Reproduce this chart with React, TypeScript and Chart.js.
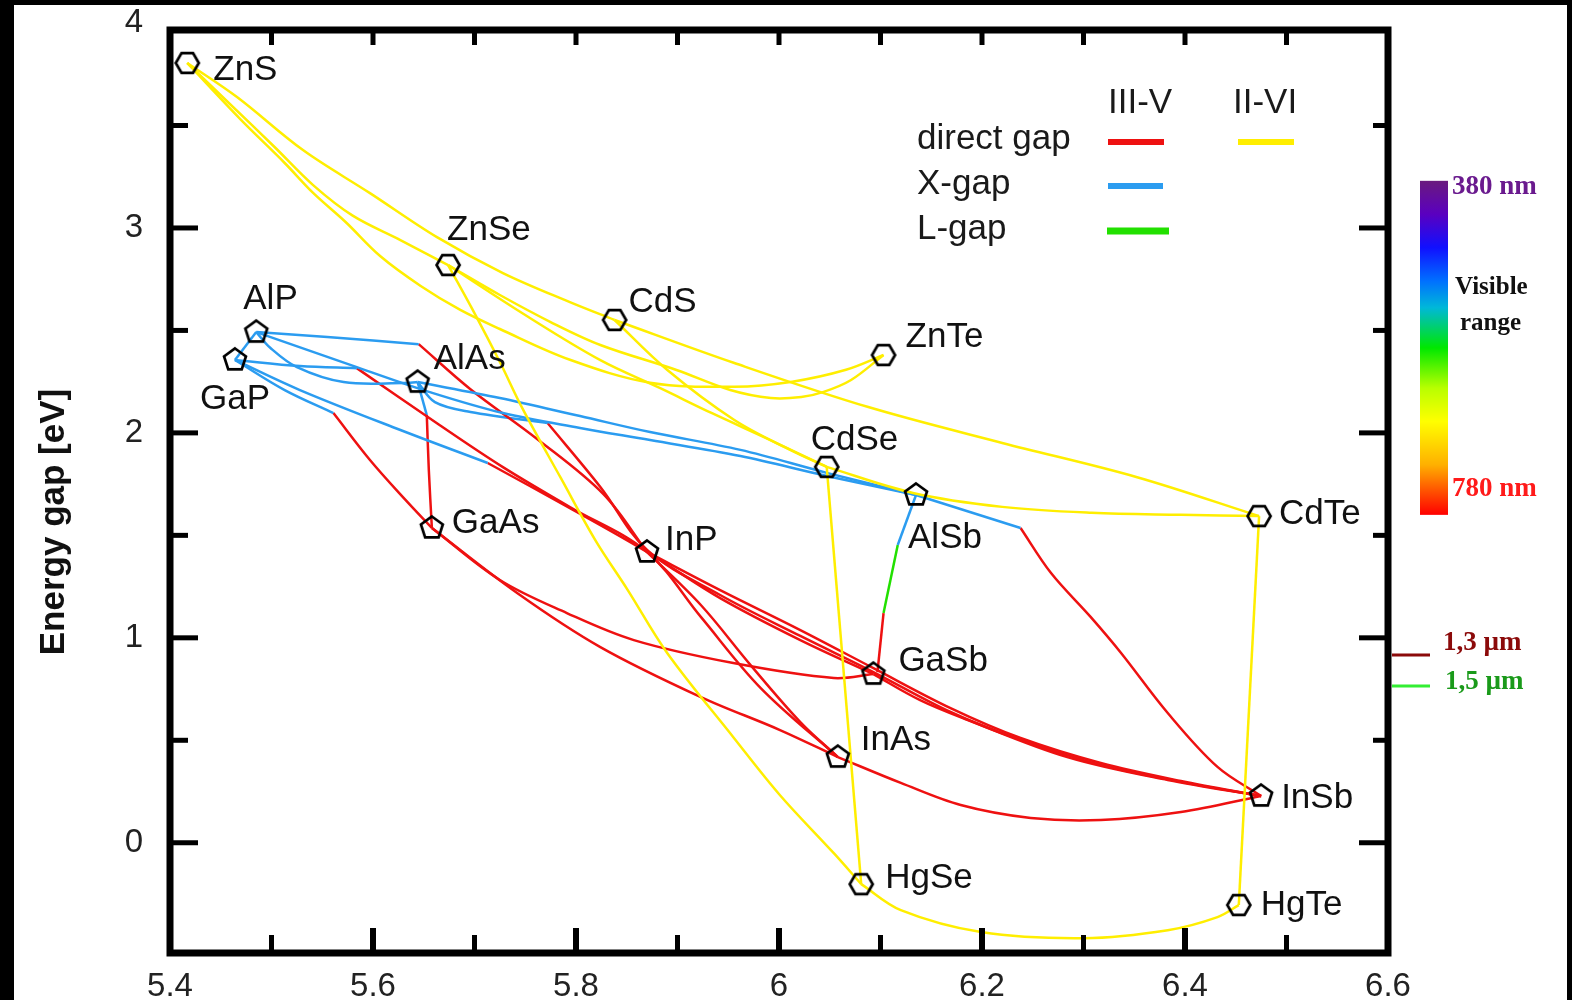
import React, { useEffect, useRef } from 'react';
import { Chart, registerables } from 'chart.js';

Chart.register(...registerables);

type Pt = [number, number];

// ---------- axes ----------
const xRange: Pt = [5.4, 6.6];
const yRange: Pt = [-0.538, 3.966];
const xTickValues = [5.4, 5.6, 5.8, 6.0, 6.2, 6.4, 6.6];
const xMinorTicks = [5.5, 5.7, 5.9, 6.1, 6.3, 6.5];
const yTickValues = [0, 1, 2, 3, 4];
const yMinorTicks = [0.5, 1.5, 2.5, 3.5];
const yTitle = 'Energy gap [eV]';

// ---------- compounds ----------
const iiviNames = ['ZnS', 'ZnSe', 'CdS', 'ZnTe', 'CdSe', 'CdTe', 'HgSe', 'HgTe'];
const iiviLattice = [5.417, 5.674, 5.838, 6.103, 6.047, 6.473, 6.081, 6.453];
const iiviGap = [3.805, 2.819, 2.551, 2.38, 1.834, 1.594, -0.202, -0.304];

const ivNames = ['AlP', 'GaP', 'AlAs', 'GaAs', 'InP', 'AlSb', 'GaSb', 'InAs', 'InSb'];
const ivLattice = [5.485, 5.464, 5.644, 5.658, 5.87, 6.135, 6.093, 6.058, 6.475];
const ivGap = [2.492, 2.356, 2.248, 1.536, 1.419, 1.697, 0.823, 0.418, 0.228];

// ---------- II-VI alloy curves ----------
const znsZnse: Pt[] = [[5.417, 3.805], [5.459, 3.605], [5.503, 3.395], [5.541, 3.209], [5.58, 3.06], [5.627, 2.941], [5.674, 2.819]];
const znsCds: Pt[] = [[5.417, 3.805], [5.466, 3.639], [5.531, 3.38], [5.597, 3.17], [5.663, 2.955], [5.728, 2.78], [5.794, 2.638], [5.838, 2.551]];
const znsZnte: Pt[] = [[5.417, 3.805], [5.469, 3.532], [5.513, 3.317], [5.541, 3.171], [5.573, 3.029], [5.607, 2.863], [5.647, 2.717], [5.686, 2.6], [5.725, 2.507], [5.794, 2.357], [5.873, 2.245], [5.956, 2.225], [6.013, 2.25], [6.066, 2.308], [6.103, 2.38]];
const znseZnte: Pt[] = [[5.674, 2.819], [5.725, 2.673], [5.775, 2.541], [5.824, 2.429], [5.899, 2.307], [5.952, 2.209], [5.992, 2.17], [6.022, 2.175], [6.044, 2.2], [6.071, 2.258], [6.103, 2.38]];
const znseCdse: Pt[] = [[5.674, 2.819], [5.75, 2.575], [5.824, 2.355], [5.883, 2.218], [5.934, 2.096], [5.992, 1.964], [6.047, 1.834]];
const cdsCdse: Pt[] = [[5.838, 2.551], [5.89, 2.307], [5.956, 2.063], [6.011, 1.917], [6.047, 1.834]];
const cdsCdte: Pt[] = [[5.838, 2.551], [5.956, 2.341], [6.088, 2.126], [6.22, 1.951], [6.352, 1.785], [6.473, 1.594]];
const cdseCdte: Pt[] = [[6.047, 1.834], [6.132, 1.707], [6.22, 1.639], [6.308, 1.61], [6.396, 1.6], [6.473, 1.594]];
const cdseHgse: Pt[] = [[6.047, 1.834], [6.081, -0.202]];
const znseHgse: Pt[] = [[5.674, 2.819], [5.701, 2.575], [5.725, 2.346], [5.748, 2.112], [5.785, 1.78], [5.819, 1.477], [5.851, 1.233], [5.89, 0.925], [5.955, 0.515], [6.001, 0.232], [6.054, -0.051], [6.081, -0.202]];
const cdteHgte: Pt[] = [[6.473, 1.594], [6.453, -0.304]];
const hgseHgte: Pt[] = [[6.081, -0.202], [6.12, -0.329], [6.199, -0.436], [6.3, -0.466], [6.383, -0.427], [6.432, -0.363], [6.453, -0.304]];

// ---------- III-V alloy curves (X-gap part / L-gap part / direct part) ----------
const alpGap: Pt[] = [[5.485, 2.492], [5.464, 2.356]];
const alpAlas: Pt[] = [[5.485, 2.492], [5.499, 2.414], [5.525, 2.321], [5.571, 2.248], [5.63, 2.243], [5.644, 2.248]];
const alpAlsb: Pt[] = [[5.485, 2.492], [5.584, 2.321], [5.656, 2.199], [5.728, 2.097], [5.804, 2.024], [5.873, 1.965], [5.962, 1.887], [6.047, 1.79], [6.135, 1.697]];
const alasAlsb: Pt[] = [[5.644, 2.248], [5.725, 2.17], [5.804, 2.082], [5.873, 2.004], [5.962, 1.917], [6.047, 1.805], [6.135, 1.697]];
const alpInpX: Pt[] = [[5.485, 2.492], [5.555, 2.468], [5.645, 2.433]];
const alpInpDirect: Pt[] = [[5.645, 2.433], [5.696, 2.213], [5.762, 1.969], [5.827, 1.701], [5.87, 1.419]];
const gapInasX: Pt[] = [[5.464, 2.356], [5.528, 2.326], [5.584, 2.316]];
const gapInasDirect: Pt[] = [[5.584, 2.316], [5.663, 2.047], [5.728, 1.833], [5.794, 1.638], [5.87, 1.419], [5.923, 1.102], [5.982, 0.755], [6.058, 0.418]];
const gapGaasX: Pt[] = [[5.464, 2.356], [5.513, 2.209], [5.561, 2.097]];
const gapGaasDirect: Pt[] = [[5.561, 2.097], [5.597, 1.868], [5.632, 1.673], [5.658, 1.536]];
const gapGasbX: Pt[] = [[5.464, 2.356], [5.528, 2.209], [5.627, 2.014], [5.713, 1.853]];
const gapGasbDirect: Pt[] = [[5.713, 1.853], [5.794, 1.633], [5.87, 1.419], [5.942, 1.194], [6.021, 0.989], [6.093, 0.823]];
const alasGaasX: Pt[] = [[5.644, 2.248], [5.653, 2.087]];
const alasGaasDirect: Pt[] = [[5.653, 2.087], [5.655, 1.819], [5.658, 1.536]];
const alasInsbX: Pt[] = [[5.644, 2.248], [5.661, 2.15], [5.696, 2.102], [5.772, 2.048]];
const alasInsbDirect: Pt[] = [[5.772, 2.048], [5.824, 1.736], [5.87, 1.429], [5.942, 1.209], [6.021, 1.009], [6.093, 0.833], [6.169, 0.638], [6.238, 0.502], [6.317, 0.38], [6.396, 0.297], [6.475, 0.228]];
const inpInas: Pt[] = [[5.87, 1.419], [5.923, 1.16], [5.972, 0.867], [6.021, 0.589], [6.058, 0.418]];
const inpInsb: Pt[] = [[5.87, 1.419], [5.942, 1.233], [6.021, 1.038], [6.093, 0.852], [6.169, 0.657], [6.238, 0.511], [6.317, 0.389], [6.396, 0.301], [6.475, 0.228]];
const gaasGasb: Pt[] = [[5.658, 1.536], [5.725, 1.282], [5.791, 1.121], [5.857, 0.989], [5.955, 0.877], [6.054, 0.804], [6.093, 0.823]];
const gaasInas: Pt[] = [[5.658, 1.536], [5.742, 1.219], [5.824, 0.955], [5.923, 0.711], [6.001, 0.55], [6.058, 0.418]];
const inasInsb: Pt[] = [[6.058, 0.418], [6.12, 0.292], [6.179, 0.184], [6.248, 0.121], [6.317, 0.111], [6.396, 0.15], [6.475, 0.228]];
const gasbInsb: Pt[] = [[6.093, 0.823], [6.139, 0.696], [6.186, 0.599], [6.284, 0.418], [6.383, 0.306], [6.475, 0.228]];
const alsbGasbX: Pt[] = [[6.135, 1.697], [6.117, 1.453]];
const alsbGasbL: Pt[] = [[6.117, 1.453], [6.103, 1.121]];
const alsbGasbDirect: Pt[] = [[6.103, 1.121], [6.097, 0.833]];
const alsbInsbX: Pt[] = [[6.135, 1.697], [6.238, 1.536]];
const alsbInsbDirect: Pt[] = [[6.238, 1.536], [6.268, 1.316], [6.307, 1.102], [6.337, 0.926], [6.383, 0.633], [6.432, 0.37], [6.475, 0.228]];

// ---------- side annotations (energy values) ----------
const visibleBand: Pt = [3.23, 1.6]; // 380 nm .. 780 nm
const telecomLevels = [0.916, 0.765]; // 1,3 µm and 1,5 µm
const telecomLabels = ['1,3 µm', '1,5 µm'];

// ---------- styles ----------
const YELLOW = '#ffee00';
const RED = '#ee1111';
const BLUE = '#2b9cf0';
const GREEN = '#22e000';
const SANS = '"Liberation Sans", Arial, Helvetica, sans-serif';
const SERIF = '"Liberation Serif", "Times New Roman", serif';

const labelOffsets: Record<string, [number, number]> = {
  ZnS: [26, 7], ZnSe: [-1, -35], CdS: [14, -18], ZnTe: [22, -18], CdSe: [-16, -27],
  CdTe: [20, -2], HgSe: [24, -6], HgTe: [22, 0],
  AlP: [-13, -33], GaP: [-35, 39], AlAs: [16, -23], GaAs: [20, -5], InP: [18, -12],
  AlSb: [-8, 43], GaSb: [25, -13], InAs: [23, -17], InSb: [20, 2],
};

const curves: { pts: Pt[]; color: string }[] = [
  { pts: znsZnse, color: YELLOW }, { pts: znsCds, color: YELLOW }, { pts: znsZnte, color: YELLOW },
  { pts: znseZnte, color: YELLOW }, { pts: znseCdse, color: YELLOW }, { pts: cdsCdse, color: YELLOW },
  { pts: cdsCdte, color: YELLOW }, { pts: cdseCdte, color: YELLOW }, { pts: cdseHgse, color: YELLOW },
  { pts: znseHgse, color: YELLOW }, { pts: cdteHgte, color: YELLOW }, { pts: hgseHgte, color: YELLOW },
  { pts: alpGap, color: BLUE }, { pts: alpAlas, color: BLUE }, { pts: alpAlsb, color: BLUE }, { pts: alasAlsb, color: BLUE },
  { pts: alpInpX, color: BLUE }, { pts: alpInpDirect, color: RED },
  { pts: gapInasX, color: BLUE }, { pts: gapInasDirect, color: RED },
  { pts: gapGaasX, color: BLUE }, { pts: gapGaasDirect, color: RED },
  { pts: gapGasbX, color: BLUE }, { pts: gapGasbDirect, color: RED },
  { pts: alasGaasX, color: BLUE }, { pts: alasGaasDirect, color: RED },
  { pts: alasInsbX, color: BLUE }, { pts: alasInsbDirect, color: RED },
  { pts: inpInas, color: RED }, { pts: inpInsb, color: RED }, { pts: gaasGasb, color: RED },
  { pts: gaasInas, color: RED }, { pts: inasInsb, color: RED }, { pts: gasbInsb, color: RED },
  { pts: alsbGasbX, color: BLUE }, { pts: alsbGasbL, color: GREEN }, { pts: alsbGasbDirect, color: RED },
  { pts: alsbInsbX, color: BLUE }, { pts: alsbInsbDirect, color: RED },
];

function polygonCanvas(sides: number, startAngle: number): HTMLCanvasElement {
  const c = document.createElement('canvas');
  c.width = 32; c.height = 32;
  const g = c.getContext('2d')!;
  g.strokeStyle = '#000';
  g.lineWidth = 2.7;
  g.lineJoin = 'miter';
  g.beginPath();
  for (let i = 0; i < sides; i++) {
    const a = startAngle + (i * 2 * Math.PI) / sides;
    const px = 16 + 11.5 * Math.cos(a);
    const py = 16 + 11.5 * Math.sin(a);
    if (i === 0) g.moveTo(px, py); else g.lineTo(px, py);
  }
  g.closePath();
  g.stroke();
  return c;
}

const zeroPadding = (s: any) => {
  s.paddingTop = 0; s.paddingBottom = 0; s.paddingLeft = 0; s.paddingRight = 0;
};

const decorPlugin = {
  id: 'decor',
  afterDraw(chart: any) {
    const { ctx, chartArea: a, scales } = chart;
    const xs = scales.x, ys = scales.y;
    ctx.save();

    // compound labels
    ctx.fillStyle = '#111';
    ctx.font = `35px ${SANS}`;
    ctx.textBaseline = 'middle';
    ctx.textAlign = 'left';
    const names = (n: string[], lx: number[], gy: number[]) => n.forEach((name, i) => {
      const o = labelOffsets[name] || [20, 0];
      ctx.fillText(name, xs.getPixelForValue(lx[i]) + o[0], ys.getPixelForValue(gy[i]) + o[1]);
    });
    names(iiviNames, iiviLattice, iiviGap);
    names(ivNames, ivLattice, ivGap);

    // legend
    ctx.fillStyle = '#1a1a1a';
    ctx.fillText('III-V', 1094, 98);
    ctx.fillText('II-VI', 1219, 98);
    ctx.fillText('direct gap', 903, 134);
    ctx.fillText('X-gap', 903, 179);
    ctx.fillText('L-gap', 903, 224);
    const sample = (x1: number, x2: number, y: number, c: string, w: number) => {
      ctx.strokeStyle = c; ctx.lineWidth = w; ctx.lineCap = 'butt';
      ctx.beginPath(); ctx.moveTo(x1, y); ctx.lineTo(x2, y); ctx.stroke();
    };
    sample(1094, 1150, 137, RED, 6);
    sample(1224, 1280, 137, YELLOW, 6);
    sample(1094, 1149, 181, BLUE, 6);
    sample(1093, 1155, 226, GREEN, 7);

    // y title
    ctx.save();
    ctx.translate(a.left - 116, a.top + 492);
    ctx.rotate(-Math.PI / 2);
    ctx.textAlign = 'center';
    ctx.textBaseline = 'middle';
    ctx.font = `bold 35px ${SANS}`;
    ctx.fillStyle = '#111';
    ctx.fillText(yTitle, 0, 0);
    ctx.restore();

    // visible colour bar
    const cbTop = ys.getPixelForValue(visibleBand[0]);
    const cbBot = ys.getPixelForValue(visibleBand[1]);
    const cbL = a.right + 32, cbW = 28;
    const grad = ctx.createLinearGradient(0, cbTop, 0, cbBot);
    grad.addColorStop(0, '#6a1a7e');
    grad.addColorStop(0.1, '#5a00c0');
    grad.addColorStop(0.2, '#1010ff');
    grad.addColorStop(0.3, '#0070ff');
    grad.addColorStop(0.38, '#00b8d8');
    grad.addColorStop(0.5, '#00e800');
    grad.addColorStop(0.62, '#b8ff00');
    grad.addColorStop(0.72, '#ffff00');
    grad.addColorStop(0.85, '#ffb000');
    grad.addColorStop(0.93, '#ff5000');
    grad.addColorStop(1, '#ff0000');
    ctx.fillStyle = grad;
    ctx.fillRect(cbL, cbTop, cbW, cbBot - cbTop);
    ctx.font = `bold 27px ${SERIF}`;
    ctx.textAlign = 'left';
    ctx.textBaseline = 'middle';
    ctx.fillStyle = '#6a1a8e';
    ctx.fillText('380 nm', cbL + 32, cbTop + 6);
    ctx.fillStyle = '#ff1a1a';
    ctx.fillText('780 nm', cbL + 32, cbBot - 26);
    ctx.fillStyle = '#111';
    ctx.font = `bold 25px ${SERIF}`;
    ctx.fillText('Visible', cbL + 35, cbTop + 107);
    ctx.fillText('range', cbL + 40, cbTop + 143);

    // telecom wavelengths
    const telColors = ['#8b0a0a', '#33ee33'];
    const telText = ['#8b0a0a', '#1a9a1a'];
    telecomLevels.forEach((e, i) => {
      const py = ys.getPixelForValue(e);
      sample(a.right + 4, a.right + 42, py, telColors[i], 3);
      ctx.fillStyle = telText[i];
      ctx.font = `bold 27px ${SERIF}`;
      ctx.fillText(telecomLabels[i], a.right + 55 + i * 2, py - 12 + i * 8);
    });

    // frame
    ctx.strokeStyle = '#000';
    ctx.lineWidth = 7;
    ctx.lineCap = 'butt';
    ctx.strokeRect(a.left, a.top, a.right - a.left, a.bottom - a.top);

    // inward ticks
    const tk = (x1: number, y1: number, x2: number, y2: number, w: number) => {
      ctx.lineWidth = w; ctx.beginPath(); ctx.moveTo(x1, y1); ctx.lineTo(x2, y2); ctx.stroke();
    };
    xTickValues.forEach((v) => {
      if (v <= xRange[0] || v >= xRange[1]) return;
      const px = xs.getPixelForValue(v);
      tk(px, a.bottom, px, a.bottom - 25, 6);
      tk(px, a.top, px, a.top + 15, 5);
    });
    xMinorTicks.forEach((v) => {
      const px = xs.getPixelForValue(v);
      tk(px, a.bottom, px, a.bottom - 18, 5);
      tk(px, a.top, px, a.top + 15, 5);
    });
    yTickValues.forEach((v) => {
      if (v <= yRange[0] || v >= yRange[1]) return;
      const py = ys.getPixelForValue(v);
      tk(a.left, py, a.left + 28, py, 5);
      tk(a.right, py, a.right - 29, py, 5);
    });
    yMinorTicks.forEach((v) => {
      const py = ys.getPixelForValue(v);
      tk(a.left, py, a.left + 18, py, 5);
      tk(a.right, py, a.right - 15, py, 5);
    });
    ctx.restore();
  },
};

export default function App() {
  const ref = useRef<HTMLCanvasElement | null>(null);

  useEffect(() => {
    if (!ref.current) return;
    const hex = polygonCanvas(6, 0);
    const pent = polygonCanvas(5, -Math.PI / 2);

    const lineSets: any[] = curves.map((c) => ({
      data: c.pts.map(([x, y]) => ({ x, y })),
      showLine: true,
      borderColor: c.color,
      backgroundColor: c.color,
      borderWidth: 2.5,
      pointRadius: 0,
      tension: c.pts.length > 2 ? 0.35 : 0,
      fill: false,
      order: 2,
    }));
    const markerSets: any[] = [
      {
        data: iiviLattice.map((x, i) => ({ x, y: iiviGap[i] })),
        pointStyle: hex, pointRadius: 12, showLine: false, order: 0,
      },
      {
        data: ivLattice.map((x, i) => ({ x, y: ivGap[i] })),
        pointStyle: pent, pointRadius: 12, showLine: false, order: 0,
      },
    ];

    const tickFont = { family: SANS, size: 33 };
    const chart = new Chart(ref.current, {
      type: 'scatter',
      data: { datasets: [...markerSets, ...lineSets] },
      options: {
        responsive: false,
        animation: false,
        events: [],
        layout: { padding: { left: 0, right: 179, top: 25, bottom: 0 } },
        plugins: { legend: { display: false }, tooltip: { enabled: false } },
        scales: {
          x: {
            type: 'linear', min: xRange[0], max: xRange[1],
            grid: { display: false }, border: { display: false },
            afterFit: (s: any) => { s.height = 47; zeroPadding(s); },
            afterBuildTicks: (s: any) => { s.ticks = xTickValues.map((v) => ({ value: v })); },
            ticks: {
              autoSkip: false, maxRotation: 0, padding: 6, color: '#222', font: tickFont,
              callback: (v: any) => String(Math.round(Number(v) * 10) / 10),
            },
          },
          y: {
            type: 'linear', min: yRange[0], max: yRange[1],
            grid: { display: false }, border: { display: false },
            afterFit: (s: any) => { s.width = 156; zeroPadding(s); },
            afterBuildTicks: (s: any) => { s.ticks = yTickValues.map((v) => ({ value: v })); },
            ticks: {
              autoSkip: false, padding: 19, color: '#222', font: tickFont,
              callback: (v: any) => String(Math.round(Number(v) * 10) / 10),
            },
          },
        },
      } as any,
      plugins: [decorPlugin],
    });
    return () => chart.destroy();
  }, []);

  return (
    <div style={{ position: 'fixed', left: 0, top: 0, width: 1572, height: 1000, background: '#000' }}>
      <div style={{ position: 'absolute', left: 14, top: 5, width: 1553, height: 995, background: '#fff' }}>
        <canvas ref={ref} width={1553} height={995} style={{ display: 'block', width: 1553, height: 995 }} />
      </div>
    </div>
  );
}
